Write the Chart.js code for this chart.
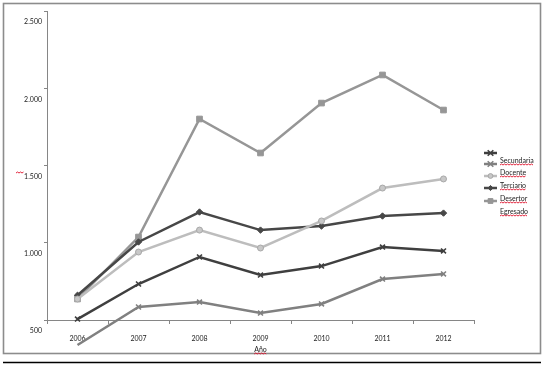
<!DOCTYPE html>
<html>
<head>
<meta charset="utf-8">
<script src="https://cdn.jsdelivr.net/npm/chart.js@4"></script>
<style>
html,body{margin:0;padding:0;background:#fff;}
canvas{display:block;}
</style>
</head>
<body>
<canvas id="c" width="549" height="371"></canvas>
<script>
const categories = ['2006','2007','2008','2009','2010','2011','2012'];
const secundaria = [506, 733, 908, 791, 849, 972, 947];
const docente    = [338, 584, 616, 545, 604, 765, 798];
const terciario  = [636, 940, 1082, 966, 1141, 1354, 1413];
const desertor   = [660, 1005, 1199, 1082, 1108, 1173, 1192];
const egresado   = [636, 1037, 1801, 1581, 1904, 2086, 1859];
const seriesNames = ['Secundaria','Docente','Terciario','Desertor','Egresado'];
const yTicks = [500, 1000, 1500, 2000, 2500];
const xTitle = 'Año';

const FONT = 'Lato, "Open Sans", sans-serif';

function fmt(v){ return String(v).replace(/\B(?=(\d{3})+(?!\d))/g, '.'); }

function squiggle(ctx, x0, x1, y){
  ctx.save();
  ctx.strokeStyle = '#e0102a';
  ctx.lineWidth = 0.9;
  ctx.beginPath();
  let up = true;
  ctx.moveTo(x0, y);
  for (let x = x0 + 1.5; x <= x1; x += 1.5){
    ctx.lineTo(x, up ? y - 1 : y);
    up = !up;
  }
  ctx.stroke();
  ctx.restore();
}

function marker(ctx, style, x, y, r, fill, stroke, bw){
  ctx.save();
  ctx.fillStyle = fill; ctx.strokeStyle = stroke; ctx.lineWidth = bw;
  ctx.beginPath();
  if (style === 'crossRot'){
    ctx.moveTo(x-r, y-r); ctx.lineTo(x+r, y+r);
    ctx.moveTo(x+r, y-r); ctx.lineTo(x-r, y+r);
    ctx.stroke();
  } else if (style === 'circle'){
    ctx.arc(x, y, r, 0, Math.PI*2); ctx.fill(); ctx.stroke();
  } else if (style === 'rectRot'){
    ctx.moveTo(x, y-r); ctx.lineTo(x+r, y); ctx.lineTo(x, y+r); ctx.lineTo(x-r, y); ctx.closePath();
    ctx.fill(); ctx.stroke();
  } else {
    ctx.rect(x-r*0.75, y-r*0.75, r*1.5, r*1.5); ctx.fill(); ctx.stroke();
  }
  ctx.restore();
}

const framePlugin = {
  id: 'frame',
  beforeDraw(chart){
    const ctx = chart.ctx;
    ctx.save();
    ctx.fillStyle = '#fff';
    ctx.fillRect(0, 0, chart.width, chart.height);
    ctx.strokeStyle = '#8c8c8c';
    ctx.lineWidth = 1.6;
    ctx.strokeRect(3.5, 3.5, 537, 350);
    ctx.strokeStyle = '#000';
    ctx.lineWidth = 1.5;
    ctx.beginPath(); ctx.moveTo(3, 362.5); ctx.lineTo(541, 362.5); ctx.stroke();
    ctx.restore();
  },
  afterDraw(chart){
    const ctx = chart.ctx;
    squiggle(ctx, 16, 24, 173);
    const xs = chart.scales.x;
    ctx.save();
    ctx.font = '7px ' + FONT;
    const tw = ctx.measureText(xTitle).width;
    const cx = (xs.left + xs.right) / 2;
    squiggle(ctx, cx - tw/2, cx + tw/2, 354);
    const lx0 = 484, lx1 = 497, tx = 500;
    const markY = [153, 164, 176, 188, 201];
    const textY = [161, 173, 186, 199, 212];
    chart.data.datasets.forEach((ds, i) => {
      ctx.strokeStyle = ds.borderColor;
      ctx.lineWidth = ds.borderWidth;
      ctx.beginPath(); ctx.moveTo(lx0, markY[i]); ctx.lineTo(lx1, markY[i]); ctx.stroke();
      marker(ctx, ds.pointStyle, (lx0+lx1)/2, markY[i], ds.pointRadius * 0.8, ds.pointBackgroundColor, ds.pointBorderColor, ds.pointBorderWidth);
    });
    ctx.fillStyle = '#222';
    ctx.font = '7px ' + FONT;
    ctx.textAlign = 'left';
    ctx.textBaseline = 'middle';
    seriesNames.forEach((n, i) => {
      ctx.fillText(n, tx, textY[i]);
      const w = ctx.measureText(n).width;
      squiggle(ctx, tx, tx + w, textY[i] + 4);
    });
    ctx.restore();
  }
};

function ds(label, data, color, style, r, fill, stroke, bw){
  return {
    label, data,
    borderColor: color, borderWidth: 2.5,
    pointStyle: style, pointRadius: r, pointHoverRadius: r,
    pointBackgroundColor: fill, pointBorderColor: stroke, pointBorderWidth: bw,
    tension: 0, clip: false, fill: false
  };
}

new Chart(document.getElementById('c'), {
  type: 'line',
  data: {
    labels: categories,
    datasets: [
      ds(seriesNames[0], secundaria, '#3f3f3f', 'crossRot', 3.5, '#3f3f3f', '#3f3f3f', 1.6),
      ds(seriesNames[1], docente, '#808080', 'crossRot', 3.5, '#808080', '#808080', 1.6),
      ds(seriesNames[2], terciario, '#bdbdbd', 'circle', 3, '#c8c8c8', '#a8a8a8', 1),
      ds(seriesNames[3], desertor, '#474747', 'rectRot', 3.2, '#474747', '#474747', 1),
      ds(seriesNames[4], egresado, '#969696', 'rect', 4, '#969696', '#969696', 1)
    ]
  },
  options: {
    responsive: false,
    animation: false,
    devicePixelRatio: 1,
    layout: { padding: { left: 0, top: 11, right: 75, bottom: 0 } },
    plugins: { legend: { display: false }, tooltip: { enabled: false } },
    scales: {
      x: {
        type: 'category',
        offset: true,
        grid: { offset: true, drawOnChartArea: false, drawTicks: true, tickLength: 4, color: '#868686' },
        border: { color: '#868686', width: 1 },
        ticks: { color: '#222', font: { family: FONT, size: 7 }, padding: 11, maxRotation: 0, autoSkip: false },
        title: { display: true, text: xTitle, color: '#222', font: { family: FONT, size: 7 }, padding: { top: 0, bottom: 17 } },
        afterFit(s){ s.height = 51; }
      },
      y: {
        min: 500, max: 2500,
        afterBuildTicks(s){ s.ticks = yTicks.map(v => ({ value: v })); },
        grid: { drawOnChartArea: false, drawTicks: true, tickLength: 3, color: '#868686' },
        border: { color: '#868686', width: 1 },
        ticks: { color: '#222', font: { family: FONT, size: 7 }, padding: 2, labelOffset: 11, callback: v => fmt(v) },
        afterFit(s){ s.width = 47; }
      }
    }
  },
  plugins: [framePlugin]
});
</script>
</body>
</html>
